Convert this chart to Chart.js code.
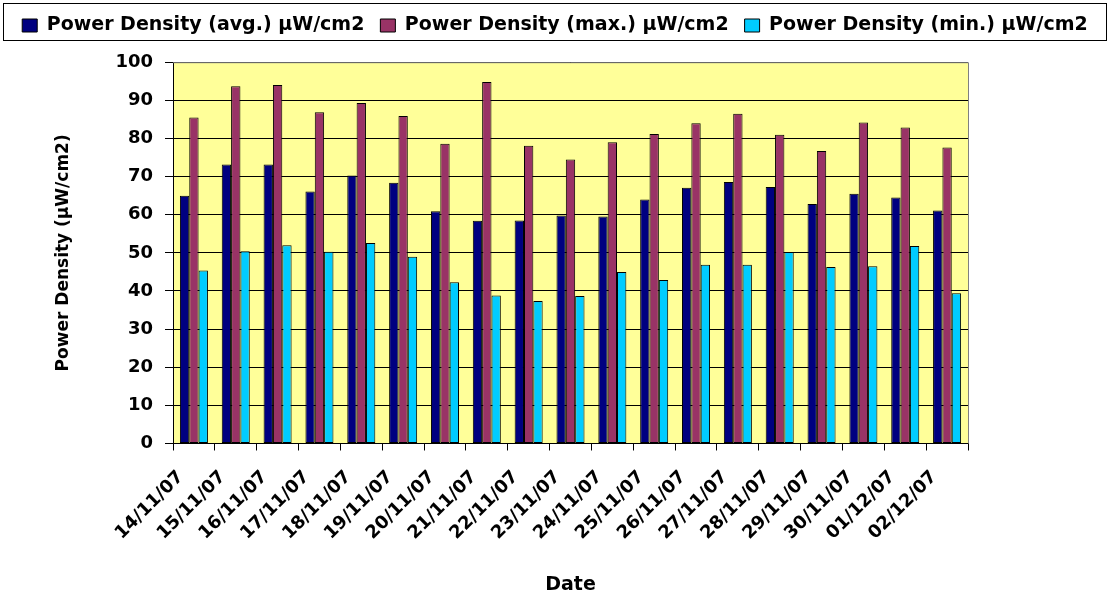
<!DOCTYPE html>
<html>
<head>
<meta charset="utf-8">
<script src="https://cdn.jsdelivr.net/npm/chart.js@4.4.0/dist/chart.umd.min.js"></script>
<style>
  html, body { margin: 0; padding: 0; background: #fff; }
  #wrap { width: 1110px; height: 600px; }
</style>
</head>
<body>
<div id="wrap"><canvas id="pdChart"></canvas></div>
<script>
// values
const dates = ["14/11/07", "15/11/07", "16/11/07", "17/11/07", "18/11/07", "19/11/07", "20/11/07",
  "21/11/07", "22/11/07", "23/11/07", "24/11/07", "25/11/07", "26/11/07", "27/11/07", "28/11/07",
  "29/11/07", "30/11/07", "01/12/07", "02/12/07"];
const avgDensity = [65.0, 73.2, 73.2, 66.1, 70.3, 68.4, 60.9, 58.4, 58.5, 59.8, 59.5, 64.0, 67.1, 68.6, 67.3, 62.8, 65.5, 64.5, 61.1];
const maxDensity = [85.5, 93.7, 94.0, 86.9, 89.3, 85.9, 78.6, 94.8, 78.1, 74.5, 79.0, 81.2, 84.0, 86.5, 81.0, 76.7, 84.2, 82.9, 77.6];
const minDensity = [45.4, 50.4, 52.0, 50.3, 52.6, 49.0, 42.3, 38.8, 37.4, 38.7, 45.0, 42.9, 46.9, 46.9, 50.2, 46.3, 46.5, 51.8, 39.4];
const yTicks = [0, 10, 20, 30, 40, 50, 60, 70, 80, 90, 100];

const FONT = "'DejaVu Sans', Verdana, sans-serif";

const plotDecor = {
    id: "plotDecor",
    beforeDraw(chart) {
        const { ctx, chartArea: a } = chart;
        ctx.save();
        ctx.fillStyle = "#FFFF99";
        ctx.fillRect(a.left, a.top, a.right - a.left, a.bottom - a.top);
        ctx.restore();
    },
    afterDraw(chart) {
        const { ctx, chartArea: a } = chart;
        ctx.save();
        // grey frame on top / right of plot
        ctx.strokeStyle = "#808080";
        ctx.lineWidth = 1;
        ctx.beginPath();
        ctx.moveTo(a.left, a.top + 0.5);
        ctx.lineTo(a.right + 0.5, a.top + 0.5);
        ctx.lineTo(a.right + 0.5, a.bottom);
        ctx.stroke();
        // box round the legend
        const lg = chart.legend;
        ctx.strokeStyle = "#000";
        ctx.strokeRect(3.5, lg.top + 3.5, chart.width - 7, 37);
        ctx.restore();
    }
};

new Chart(document.getElementById("pdChart"), {
    type: "bar",
    data: {
        labels: dates,
        datasets: [{
            label: "Power Density (avg.) µW/cm2",
            data: avgDensity,
            backgroundColor: "#000080"
        }, {
            label: "Power Density (max.) µW/cm2",
            data: maxDensity,
            backgroundColor: "#993366"
        }, {
            label: "Power Density (min.) µW/cm2",
            data: minDensity,
            backgroundColor: "#00CCFF"
        }]
    },
    options: {
        responsive: true,
        maintainAspectRatio: false,
        animation: false,
        datasets: {
            bar: {
                borderColor: "#000",
                borderWidth: 1,
                borderSkipped: false,
                categoryPercentage: 0.67,
                barPercentage: 1
            }
        },
        layout: { padding: { left: 0, right: 0, top: 0, bottom: 4 } },
        scales: {
            x: {
                grid: { display: true, drawOnChartArea: false, offset: true, color: "#000", tickLength: 7 },
                border: { color: "#000", width: 1 },
                ticks: {
                    color: "#000",
                    font: { family: FONT, size: 18, weight: "bold" },
                    minRotation: 45, maxRotation: 45,
                    labelOffset: -13,
                    padding: 16,
                    autoSkip: false
                },
                title: {
                    display: true, text: "Date", color: "#000",
                    font: { family: FONT, size: 19, weight: "bold" },
                    padding: { top: 13, bottom: 0 }
                }
            },
            y: {
                min: 0, max: 100,
                afterBuildTicks(scale) { scale.ticks = yTicks.map(v => ({ value: v })); },
                afterFit(scale) { scale.width = 173; },
                grid: { color: "#000", tickLength: 8 },
                border: { color: "#000", width: 1 },
                ticks: {
                    color: "#000",
                    font: { family: FONT, size: 18, weight: "bold" },
                    padding: 12
                },
                title: {
                    display: true, text: "Power Density (µW/cm2)", color: "#000",
                    font: { family: FONT, size: 17, weight: "bold" },
                    padding: { top: 53, bottom: 0 }
                }
            },
            // empty right-hand axis, only keeps the space right of the plot
            yRight: {
                position: "right",
                display: true,
                afterFit(scale) { scale.width = 142; },
                grid: { display: false },
                border: { display: false },
                ticks: { display: false }
            }
        },
        plugins: {
            legend: {
                position: "top",
                labels: {
                    color: "#000",
                    font: { family: FONT, size: 19, weight: "bold" },
                    boxWidth: 15, boxHeight: 13,
                    padding: 16
                }
            },
            // empty title under the legend, only a gap above the plot
            title: {
                display: true,
                text: "",
                weight: 500,
                font: { size: 1 },
                padding: { top: 0, bottom: 16 }
            },
            tooltip: { enabled: false }
        }
    },
    plugins: [plotDecor]
});
</script>
</body>
</html>
